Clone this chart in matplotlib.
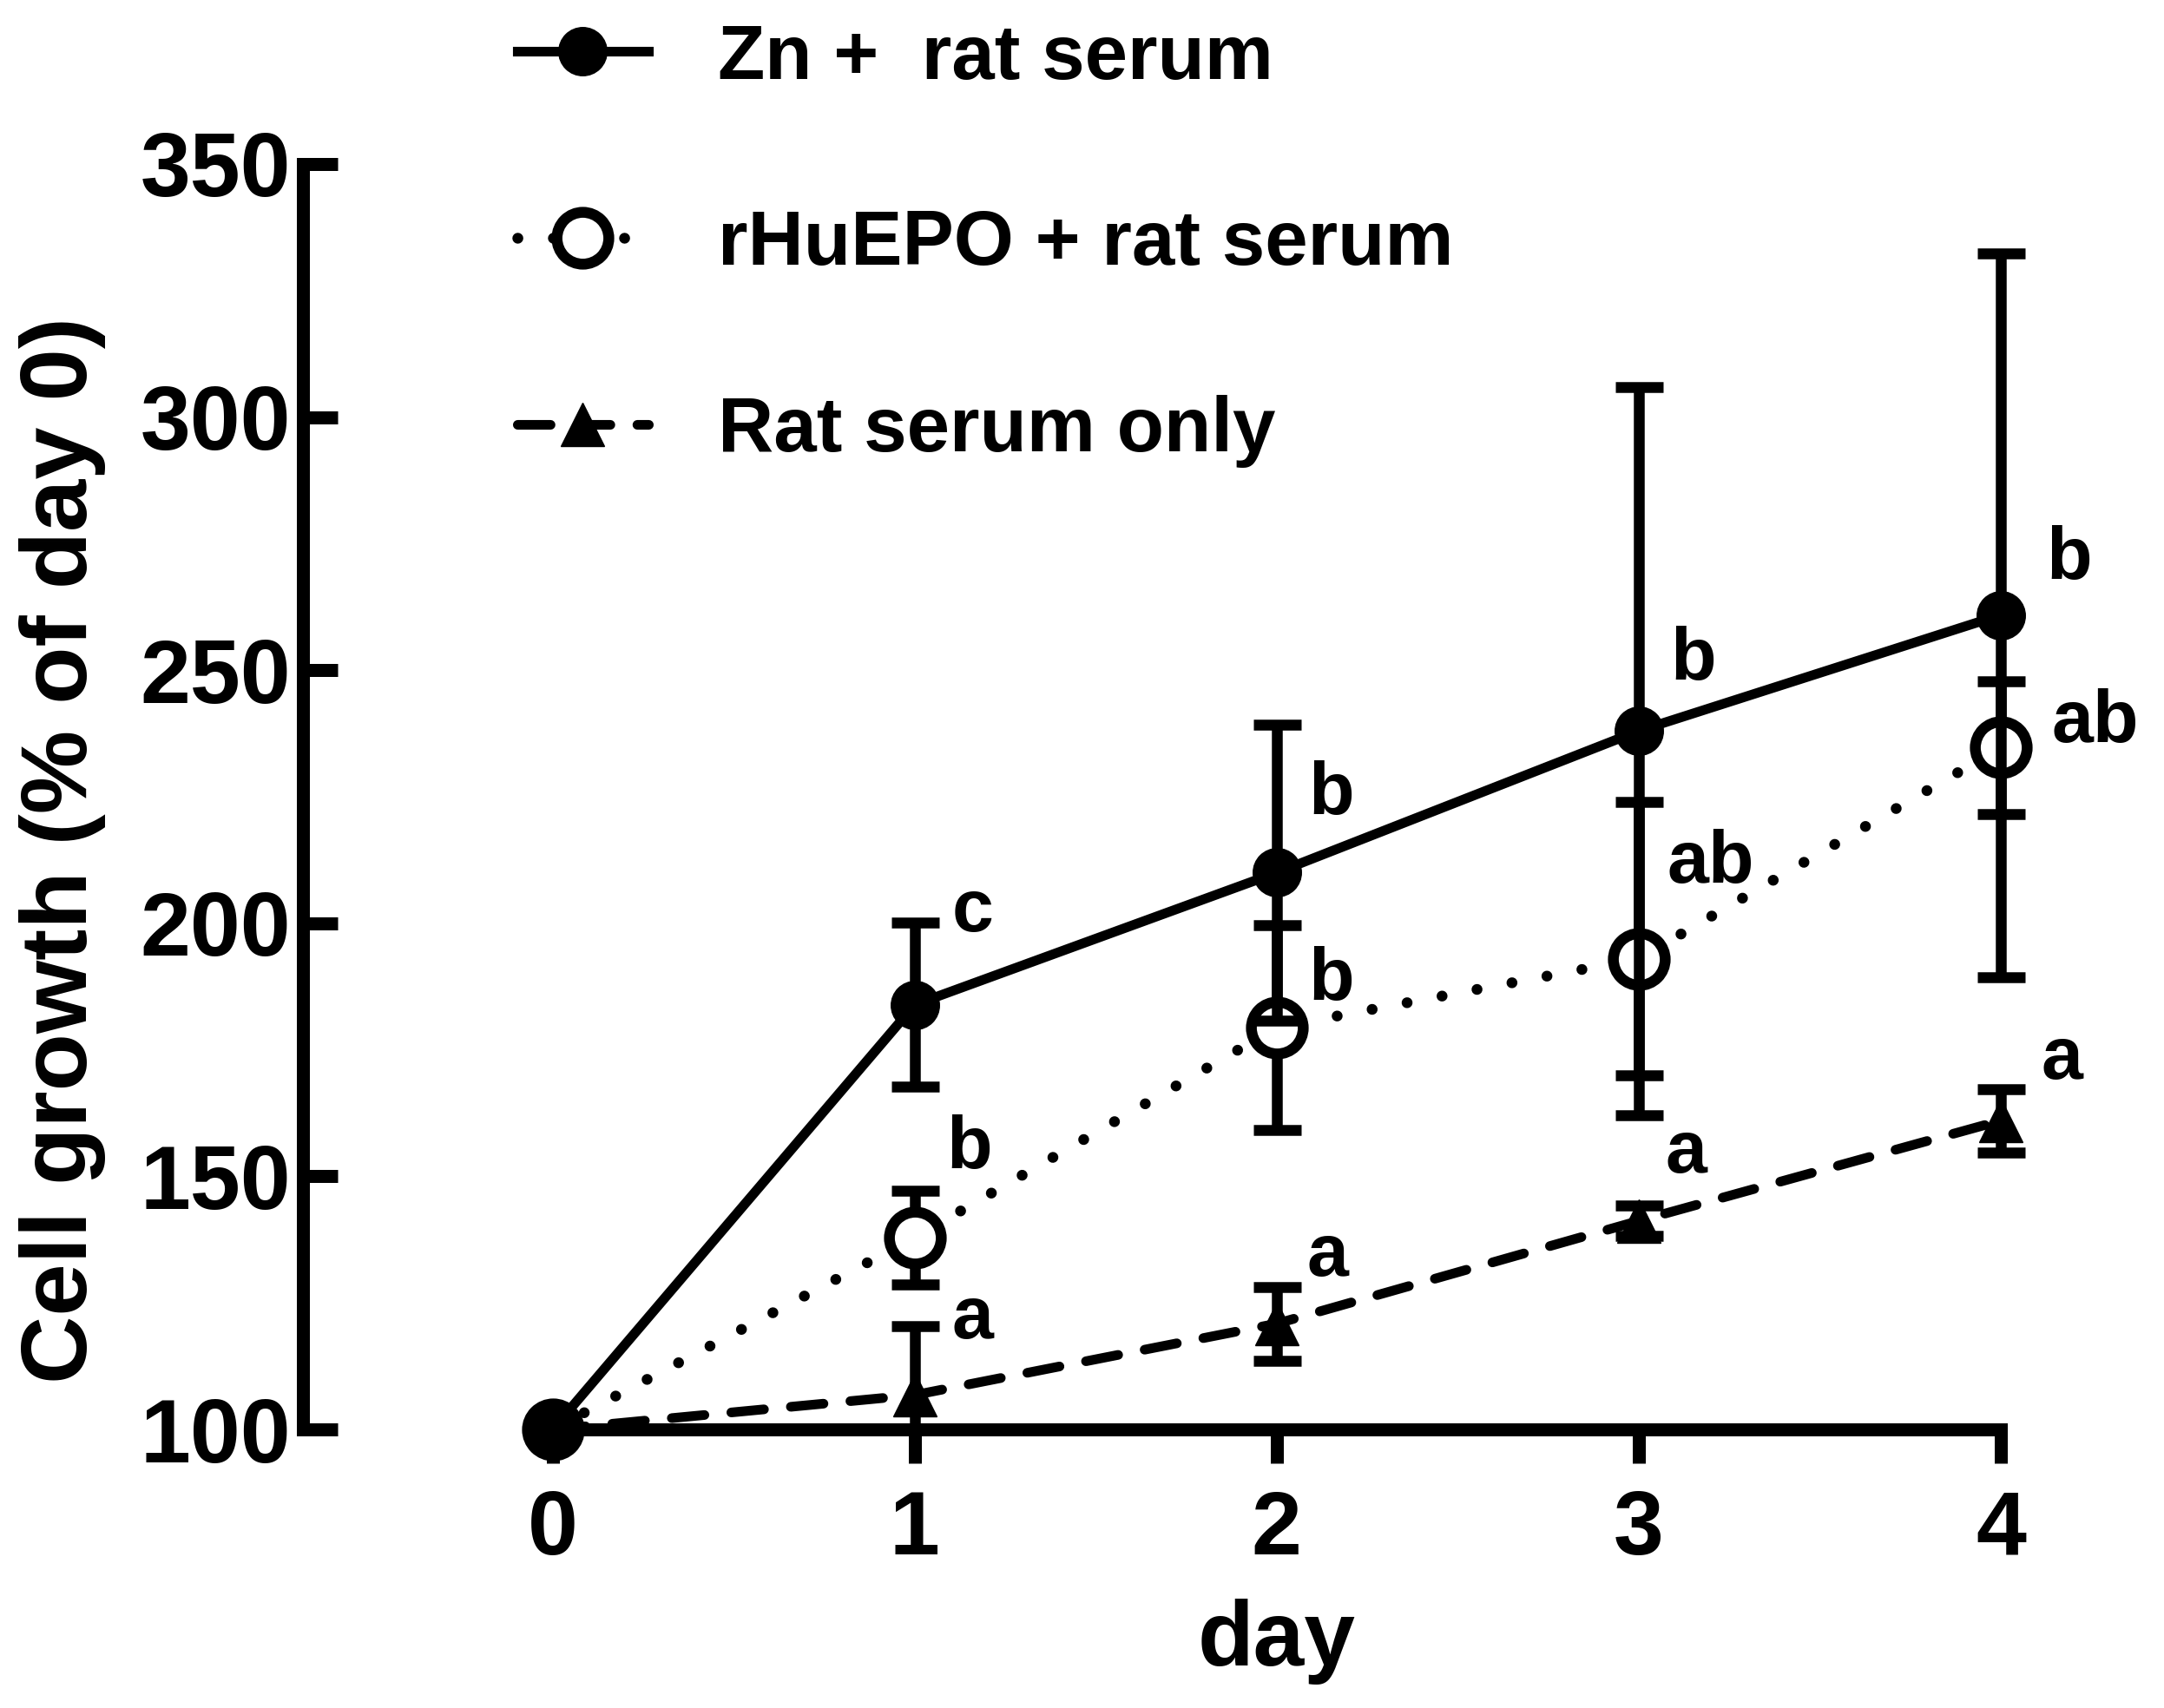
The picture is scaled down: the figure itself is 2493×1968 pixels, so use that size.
import numpy as np
import matplotlib
matplotlib.use("Agg")
import matplotlib.pyplot as plt

plt.rcParams['font.family'] = ['Liberation Sans', 'DejaVu Sans']
plt.rcParams['font.weight'] = 'bold'

# -----------------------------
# dados
# -----------------------------
days = [0, 1, 2, 3, 4]

zn_mean = [100, 183.9, 210.0, 238.0, 260.9]
zn_err = [0, 16.2, 29.3, 68.0, 71.5]

epo_mean = [100, 137.9, 179.4, 193.0, 234.7]
epo_err = [0, 9.3, 20.2, 31.0, 13.1]

rat_mean = [100, 106.8, 120.9, 141.2, 161.0]
rat_err = [0, 13.6, 7.3, 3.0, 6.3]

labels = ["Zn +  rat serum", "rHuEPO + rat serum", "Rat serum only"]

# letras de significância
sig_x = [1.16, 1.15, 1.16, 2.15, 2.15, 2.14, 3.15, 3.20, 3.13, 4.19, 4.26, 4.17]
sig_y = [202.2, 155.3, 121.8, 225.4, 188.6, 134.1, 251.9, 211.8, 154.5, 271.8, 239.6, 173.0]
sig_txt = ['c', 'b', 'a', 'b', 'b', 'a', 'b', 'ab', 'a', 'b', 'ab', 'a']

yticks = [100, 150, 200, 250, 300, 350]

# -----------------------------
# figura
# -----------------------------
fig = plt.figure(figsize=(24.93, 19.68), dpi=100)
ax = fig.add_axes([0.140, 0.1631, 0.8046, 0.7409])

eb_kw = dict(fmt='none', elinewidth=9, capsize=19.8, capthick=9, ecolor='black')

# barras de erro (cortadas no eixo) + linhas com marcadores por cima
ax.errorbar(days, rat_mean, yerr=rat_err, zorder=2, **eb_kw)
l_rat, = ax.plot(days, rat_mean, color='black', marker='^', ms=36,
                 lw=8, dashes=(3.4, 2.8), dash_capstyle='round',
                 zorder=2.1, clip_on=False)

ax.errorbar(days, epo_mean, yerr=epo_err, zorder=3, **eb_kw)
l_epo, = ax.plot(days, epo_mean, color='black', marker='o', ms=43,
                 mfc='white', mec='black', mew=9,
                 lw=9, dashes=(0.01, 3.27), dash_capstyle='round',
                 zorder=3.1, clip_on=False)

ax.errorbar(days, zn_mean, yerr=zn_err, zorder=4, **eb_kw)
l_zn, = ax.plot(days, zn_mean, color='black', marker='o', ms=40,
                lw=8, zorder=4.1, clip_on=False)

for x, y, t in zip(sig_x, sig_y, sig_txt):
    ax.text(x, y, t, fontsize=62, ha='center', va='center', fontweight='bold')

ax.set_xlim(-0.69, 4.12)
ax.set_ylim(100, 350)

for s in ['top', 'right']:
    ax.spines[s].set_visible(False)
for s in ['left', 'bottom']:
    ax.spines[s].set_linewidth(10.8)
ax.spines['bottom'].set_bounds(0, 4)
ax.spines['left'].set_bounds(100, 350)

ax.set_xticks(days)
ax.set_yticks(yticks)
ax.tick_params(axis='x', direction='out', length=28, width=10.8, labelsize=75, pad=22)
ax.tick_params(axis='y', direction='in', length=29, width=10.8, labelsize=75, pad=10)

ax.set_xlabel("day", fontsize=76, fontweight='bold')
ax.xaxis.label.set_va('center')
ax.xaxis.set_label_coords(0.559, -0.168)
ax.set_ylabel("Cell growth (% of day 0)", fontsize=78, fontweight='bold')
ax.yaxis.label.set_va('center')
ax.yaxis.set_label_coords(-0.138, 0.458)

leg = ax.legend([l_zn, l_epo, l_rat], labels, loc='upper left',
                bbox_to_anchor=(0.239, 0.987), bbox_transform=fig.transFigure,
                frameon=False, fontsize=64, handlelength=1.7, handletextpad=0.9,
                labelspacing=1.47, borderpad=0, borderaxespad=0)
for t in leg.get_texts():
    t.set_fontweight('bold')

fig.savefig("out.png", dpi=100)
